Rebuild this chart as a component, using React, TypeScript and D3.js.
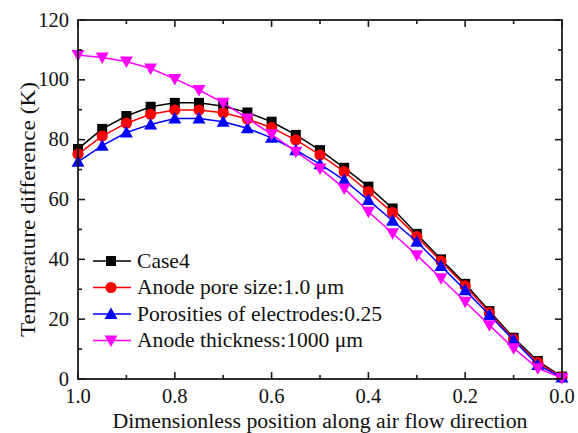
import React from "react";
import * as d3 from "d3";

const positions = [1.0, 0.95, 0.9, 0.85, 0.8, 0.75, 0.7, 0.65, 0.6, 0.55, 0.5, 0.45, 0.4, 0.35, 0.3, 0.25, 0.2, 0.15, 0.1, 0.05, 0.0];
const case4 = [76.9, 83.6, 87.9, 91.0, 92.3, 92.3, 91.2, 89.1, 86.0, 81.6, 76.5, 70.6, 64.3, 57.0, 48.5, 40.0, 31.8, 22.7, 13.8, 6.0, 0.8];
const poreSize = [75.2, 81.2, 85.5, 88.5, 89.9, 89.9, 89.0, 86.9, 84.0, 79.9, 74.9, 69.3, 62.6, 55.6, 47.6, 39.4, 31.1, 22.2, 13.3, 5.5, 0.6];
const porosity = [72.6, 78.0, 82.4, 85.1, 87.1, 87.1, 86.0, 83.8, 80.6, 76.5, 71.8, 66.5, 59.8, 52.9, 45.9, 37.8, 29.7, 21.4, 13.0, 4.7, 0.5];
const thickness = [108.3, 107.5, 106.1, 103.8, 100.3, 96.6, 92.3, 87.1, 81.8, 76.0, 70.4, 63.7, 55.9, 48.7, 41.4, 33.7, 25.8, 18.0, 10.3, 3.6, 0.3];

const seriesNames = ["Case4", "Anode pore size:1.0 \u03bcm", "Porosities of electrodes:0.25", "Anode thickness:1000 \u03bcm"];
const seriesColors = ["#000000", "#ff0000", "#0000ff", "#ff00ff"];
const seriesShapes = ["square", "circle", "triangle", "triangleDown"];
const seriesValues = [case4, poreSize, porosity, thickness];

const xMajorTicks = [1.0, 0.8, 0.6, 0.4, 0.2, 0.0];
const xMinorTicks = [0.9, 0.7, 0.5, 0.3, 0.1];
const yMajorTicks = [0, 20, 40, 60, 80, 100, 120];
const yMinorTicks = [10, 30, 50, 70, 90, 110];

const W = 578, H = 433;
const L = 78, R = 562, T = 20, B = 379;
const FONT = "'Liberation Serif', 'Times New Roman', serif";

function Marker({ shape, x, y, color }: { shape: string; x: number; y: number; color: string }) {
  if (shape === "square") return <rect x={x - 5} y={y - 5} width={10} height={10} fill={color} />;
  if (shape === "circle") return <circle cx={x} cy={y} r={5.6} fill={color} />;
  if (shape === "triangle") return <path d={`M${x},${y - 6.5}L${x + 6.5},${y + 5}L${x - 6.5},${y + 5}Z`} fill={color} />;
  return <path d={`M${x},${y + 6.5}L${x + 6.5},${y - 5}L${x - 6.5},${y - 5}Z`} fill={color} />;
}

export default function App() {
  const x = d3.scaleLinear().domain([1, 0]).range([L, R]);
  const y = d3.scaleLinear().domain([0, 120]).range([B, T]);
  const line = d3.line<number>().x((_, i) => x(positions[i])).y((d) => y(d));
  const axisColor = "#1a1a1a";

  return (
    <svg width={W} height={H} style={{ position: "absolute", left: 0, top: 0, background: "#fff" }} fontFamily={FONT}>
      <rect x={0} y={0} width={W} height={H} fill="#fff" />
      {seriesValues.map((vals, si) => (
        <g key={si}>
          <path d={line(vals) || ""} fill="none" stroke={seriesColors[si]} strokeWidth={1.5} />
          {vals.map((v, i) => (
            <Marker key={i} shape={seriesShapes[si]} x={x(positions[i])} y={y(v)} color={seriesColors[si]} />
          ))}
        </g>
      ))}
      <rect x={L} y={T} width={R - L} height={B - T} fill="none" stroke={axisColor} strokeWidth={1.8} />
      {xMajorTicks.map((t) => (
        <g key={"xM" + t}>
          <line x1={x(t)} x2={x(t)} y1={B} y2={B - 7} stroke={axisColor} strokeWidth={1.6} />
          <line x1={x(t)} x2={x(t)} y1={T} y2={T + 7} stroke={axisColor} strokeWidth={1.6} />
          <text x={x(t)} y={B + 24} fontSize={20.5} textAnchor="middle" fill="#111">{t.toFixed(1)}</text>
        </g>
      ))}
      {xMinorTicks.map((t) => (
        <g key={"xm" + t}>
          <line x1={x(t)} x2={x(t)} y1={B} y2={B - 4} stroke={axisColor} strokeWidth={1.6} />
          <line x1={x(t)} x2={x(t)} y1={T} y2={T + 4} stroke={axisColor} strokeWidth={1.6} />
        </g>
      ))}
      {yMajorTicks.map((t) => (
        <g key={"yM" + t}>
          <line x1={L} x2={L + 7} y1={y(t)} y2={y(t)} stroke={axisColor} strokeWidth={1.6} />
          <line x1={R} x2={R - 7} y1={y(t)} y2={y(t)} stroke={axisColor} strokeWidth={1.6} />
          <text x={L - 9} y={y(t) + 6.5} fontSize={20.5} textAnchor="end" fill="#111">{t}</text>
        </g>
      ))}
      {yMinorTicks.map((t) => (
        <g key={"ym" + t}>
          <line x1={L} x2={L + 4} y1={y(t)} y2={y(t)} stroke={axisColor} strokeWidth={1.6} />
          <line x1={R} x2={R - 4} y1={y(t)} y2={y(t)} stroke={axisColor} strokeWidth={1.6} />
        </g>
      ))}
      <text x={(L + R) / 2} y={428} fontSize={20.5} textAnchor="middle" fill="#111"
        textLength={415} lengthAdjust="spacingAndGlyphs">
        Dimensionless position along air flow direction
      </text>
      <text transform={`translate(35, ${(82 + 337) / 2}) rotate(-90)`} fontSize={20.5} textAnchor="middle" fill="#111"
        textLength={255} lengthAdjust="spacingAndGlyphs">
        Temperature difference (K)
      </text>
      {seriesNames.map((name, si) => {
        const ly = 261 + si * 26.5;
        return (
          <g key={"lg" + si}>
            <line x1={93} x2={131} y1={ly} y2={ly} stroke={seriesColors[si]} strokeWidth={1.5} />
            <Marker shape={seriesShapes[si]} x={111} y={ly} color={seriesColors[si]} />
            <text transform={`translate(137, ${ly + 6.5}) scale(1.08, 1)`} fontSize={20} fill="#111">{name}</text>
          </g>
        );
      })}
    </svg>
  );
}
